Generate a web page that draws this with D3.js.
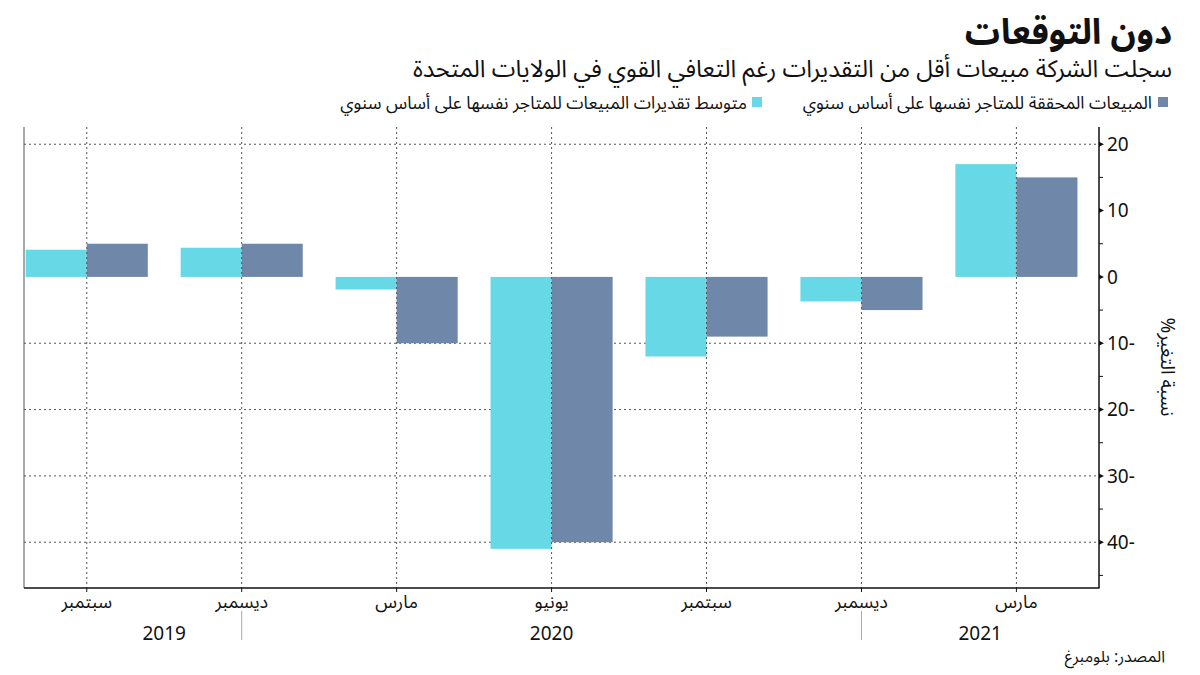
<!DOCTYPE html>
<html lang="ar">
<head>
<meta charset="utf-8">
<script src="https://cdn.jsdelivr.net/npm/d3@7.9.0/dist/d3.min.js"></script>
<style>
  html, body { margin: 0; padding: 0; background: #fff; }
  svg { display: block; font-family: "Noto Sans Arabic", "Noto Sans", "DejaVu Sans", sans-serif; }
</style>
</head>
<body>
<svg id="chart" width="1200" height="675"></svg>
<script>
// Data
const quarters = ["سبتمبر", "ديسمبر", "مارس", "يونيو", "سبتمبر", "ديسمبر", "مارس"];
const estimates = [4.1, 4.4, -1.9, -41.0, -12.0, -3.7, 17.0];
const actual = [5.0, 5.0, -10.0, -40.0, -9.0, -5.0, 15.0];
const years = ["2019", "2020", "2021"];
const yearBreaks = [1, 5]; // quarter index where a new year block starts
const yTicks = [20, 10, 0, -10, -20, -30, -40];

const title = "دون التوقعات";
const subtitle = "سجلت الشركة مبيعات أقل من التقديرات رغم التعافي القوي في الولايات المتحدة";
const legendActual = "المبيعات المحققة للمتاجر نفسها على أساس سنوي";
const legendEst = "متوسط تقديرات المبيعات للمتاجر نفسها على أساس سنوي";
const yTitle = "نسبة التغير%";
const source = "المصدر: بلومبرغ";

const cyan = "#66d8e6";
const slate = "#6f88aa";

const svg = d3.select("#chart");
const plotL = 24, plotR = 1099, plotT = 127, plotB = 588;

const xMax = 6.533;
const x = d3.scaleLinear().domain([-0.405, xMax]).range([plotL, plotR]);
const y = d3.scaleLinear().domain([-46.9, 22.6]).range([plotB, plotT]);
const barW = x(0.394) - x(0);

// header
svg.append("text").attr("x", 1172).attr("y", 44)
  .attr("text-anchor", "end").attr("font-size", 35).attr("font-weight", 700)
  .attr("fill", "#111").text(title);
svg.append("text").attr("x", 1172).attr("y", 77)
  .attr("text-anchor", "end").attr("font-size", 24)
  .attr("fill", "#111").text(subtitle);

// legend
svg.append("rect").attr("x", 1158).attr("y", 97).attr("width", 10).attr("height", 10).attr("fill", slate);
svg.append("text").attr("x", 1152).attr("y", 109).attr("text-anchor", "end")
  .attr("font-size", 17.5).attr("fill", "#111").text(legendActual);
svg.append("rect").attr("x", 752).attr("y", 97).attr("width", 10).attr("height", 10).attr("fill", cyan);
svg.append("text").attr("x", 747).attr("y", 109).attr("text-anchor", "end")
  .attr("font-size", 17.5).attr("fill", "#111").text(legendEst);

// horizontal grid (behind bars)
svg.append("g").selectAll("line")
  .data(yTicks.filter(d => d === 20 || d < 0))
  .join("line")
  .attr("x1", plotL).attr("x2", plotR)
  .attr("y1", d => y(d)).attr("y2", d => y(d))
  .attr("stroke", "#555").attr("stroke-dasharray", "2,3");

// bars
const idx = d3.range(quarters.length);
svg.append("g").selectAll("rect")
  .data(idx).join("rect")
  .attr("x", i => x(i) - barW).attr("width", barW)
  .attr("y", i => y(Math.max(0, estimates[i])))
  .attr("height", i => Math.abs(y(estimates[i]) - y(0)))
  .attr("fill", cyan);
svg.append("g").selectAll("rect")
  .data(idx).join("rect")
  .attr("x", i => x(i)).attr("width", barW)
  .attr("y", i => y(Math.max(0, actual[i])))
  .attr("height", i => Math.abs(y(actual[i]) - y(0)))
  .attr("fill", slate);

// vertical grid (above bars)
svg.append("g").selectAll("line")
  .data(idx).join("line")
  .attr("x1", i => x(i)).attr("x2", i => x(i))
  .attr("y1", plotT).attr("y2", plotB)
  .attr("stroke", "#555").attr("stroke-dasharray", "2,3");

// frame
svg.append("line").attr("x1", plotL).attr("x2", plotL).attr("y1", plotT).attr("y2", plotB)
  .attr("stroke", "#555");
svg.append("line").attr("x1", plotL).attr("x2", plotR + 0.5).attr("y1", plotB).attr("y2", plotB)
  .attr("stroke", "#111").attr("stroke-width", 1.5);

// y axis on the right
const yAxis = svg.append("g").attr("transform", `translate(${plotR},0)`);
yAxis.append("line").attr("y1", plotT).attr("y2", plotB).attr("stroke", "#111").attr("stroke-width", 1.5);
yAxis.selectAll(".minor")
  .data(d3.range(-45, 22, 5).filter(d => d % 10 !== 0))
  .join("line").attr("class", "minor")
  .attr("x1", 0).attr("x2", 4).attr("y1", d => y(d)).attr("y2", d => y(d))
  .attr("stroke", "#111");
yAxis.selectAll(".major")
  .data(yTicks).join("path").attr("class", "major")
  .attr("d", d => `M0,${y(d) - 2.5}L5,${y(d)}L0,${y(d) + 2.5}Z`)
  .attr("fill", "#111");
yAxis.selectAll(".lbl")
  .data(yTicks).join("text").attr("class", "lbl")
  .attr("x", 8).attr("y", d => y(d)).attr("dy", "0.35em")
  .attr("font-size", 19).attr("fill", "#111")
  .text(d => d < 0 ? `${-d}-` : `${d}`);

svg.append("text")
  .attr("transform", `translate(1161,367) rotate(90)`)
  .attr("text-anchor", "middle").attr("direction", "rtl")
  .attr("font-size", 19).attr("fill", "#111").text(yTitle);

// x axis labels
svg.append("g").selectAll("line")
  .data(idx).join("line")
  .attr("x1", i => x(i)).attr("x2", i => x(i))
  .attr("y1", plotB).attr("y2", plotB + 4)
  .attr("stroke", "#111");
svg.append("g").selectAll("text")
  .data(idx).join("text")
  .attr("x", i => x(i)).attr("y", 608)
  .attr("text-anchor", "middle").attr("font-size", 18).attr("fill", "#111")
  .text(i => quarters[i]);

const bounds = [0, ...yearBreaks, xMax];
svg.append("g").selectAll("text")
  .data(years).join("text")
  .attr("x", (d, i) => x((bounds[i] + bounds[i + 1]) / 2)).attr("y", 640)
  .attr("text-anchor", "middle").attr("font-size", 19).attr("fill", "#111")
  .text(d => d);
svg.append("g").selectAll("line")
  .data(yearBreaks).join("line")
  .attr("x1", d => x(d)).attr("x2", d => x(d))
  .attr("y1", 611).attr("y2", 640)
  .attr("stroke", "#aaa");

// source
svg.append("text").attr("x", 1165).attr("y", 662).attr("text-anchor", "end")
  .attr("font-size", 16).attr("fill", "#111").text(source);
</script>
</body>
</html>
